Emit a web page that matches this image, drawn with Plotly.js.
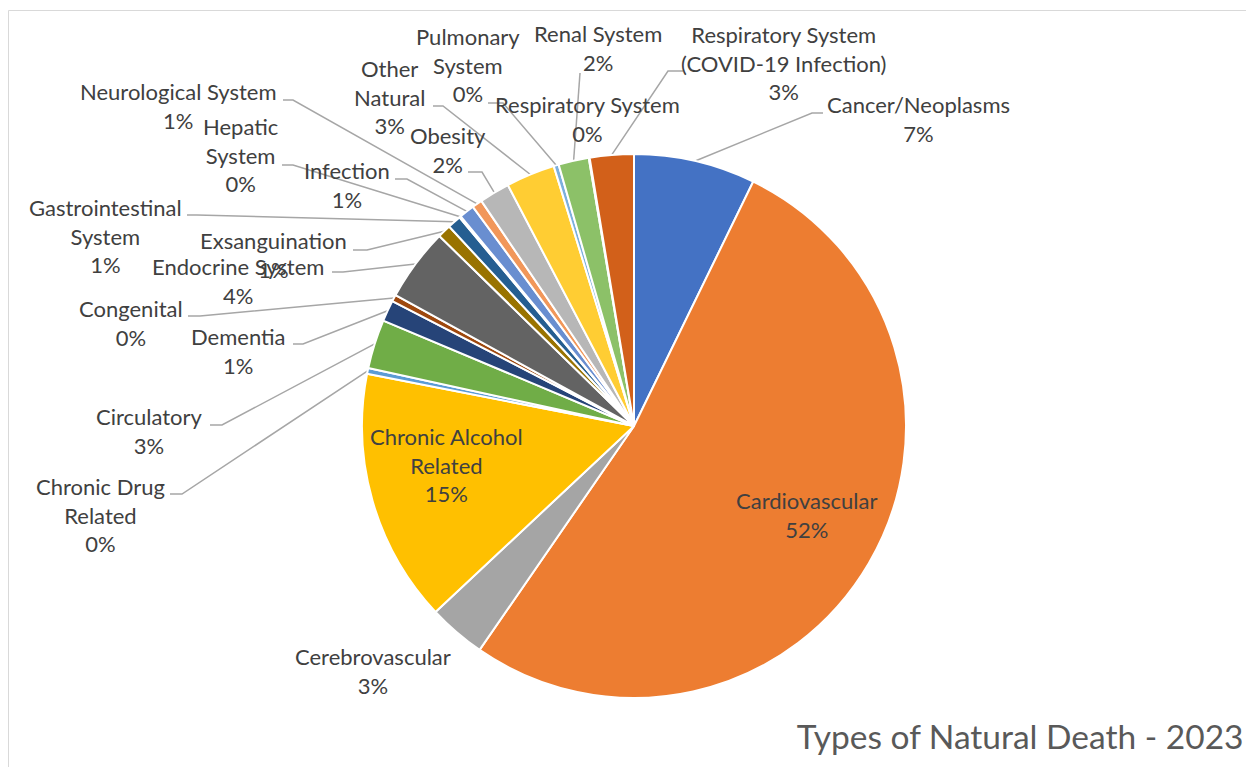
<!DOCTYPE html>
<html>
<head>
<meta charset="utf-8">
<script src="https://cdn.plot.ly/plotly-3.0.1.min.js"></script>
<style>html,body{margin:0;padding:0;background:#fff;}#chart{width:1246px;height:767px;}</style>
</head>
<body>
<div id="chart"></div>
<script>
// ---- data (share of natural deaths, %) ----
var categories = [
  "Cancer/Neoplasms", "Cardiovascular", "Cerebrovascular", "Chronic Alcohol Related",
  "Chronic Drug Related", "Circulatory", "Dementia", "Congenital", "Endocrine System",
  "Exsanguination", "Gastrointestinal System", "Hepatic System", "Infection",
  "Neurological System", "Obesity", "Other Natural", "Pulmonary System", "Renal System",
  "Respiratory System", "Respiratory System (COVID-19 Infection)"
];
var values = [7.2, 52.2, 3.4, 15.0, 0.35, 2.9, 1.25, 0.4, 4.3, 0.8, 0.8, 0.1, 0.9, 0.6, 1.8, 2.9, 0.3, 1.8, 0.05, 2.6];
var labelText = [
  "Cancer/Neoplasms", "Cardiovascular", "Cerebrovascular", "Chronic Alcohol<br>Related",
  "Chronic Drug<br>Related", "Circulatory", "Dementia", "Congenital", "Endocrine System",
  "Exsanguination", "Gastrointestinal<br>System", "Hepatic<br>System", "Infection",
  "Neurological System", "Obesity", "Other<br>Natural", "Pulmonary<br>System", "Renal System",
  "Respiratory System", "Respiratory System<br>(COVID-19 Infection)"
];
var sliceColors = [
  "#4472C4", "#ED7D31", "#A5A5A5", "#FFC000", "#5B9BD5", "#70AD47",
  "#264478", "#9E480E", "#636363", "#997300", "#255E91", "#43682B",
  "#698ED0", "#F1975A", "#B7B7B7", "#FFCD33", "#7CAFDD", "#8CC168",
  "#335AA1", "#D2601A"
];
var chartTitle = "Types of Natural Death - 2023";

// ---- layout (pixel positions of the figure) ----
var W = 1246, H = 767;
var CX = 634, CY = 426, R = 272;
// label block centre [x, y]; leader line start + elbow (null = no leader)
var labelPos = [
  [918, 119], [806, 515], [373, 671], [446, 465],
  [100, 515], [149, 431], [238, 351], [131, 323], [238, 281],
  [273, 255], [105, 236], [240, 155], [347, 185],
  [178, 106], [448, 150], [389, 97], [468, 65], [598, 48],
  [587, 119], [783, 63]
];
var leaderPts = [
  [[823,113],[812,113]], null, null, null,
  [[170,494],[182,494]], [[210,425],[222,425]], [[293,344],[303,344]], [[188,316],[200,316]], [[332,272],[343,272]],
  [[353,250],[367,250]], [[187,215],[197,215]], [[282,165],[293,165]], [[395,179],[407,179]],
  [[283,100],[293,100]], [[468,172],[482,172]], [[433,106],[443,106]], [[488,103],[503,103]], [[580,73],[580,73]],
  null, [[683,71],[668,71]]
];

var FONT = "Lato, 'Open Sans', sans-serif";
var total = values.reduce(function(a,b){return a+b;}, 0);

// leader line traces from slice mid-angles
var lx = [], ly = [];
var cum = 0;
var annotations = [];
for (var i = 0; i < values.length; i++) {
  var mid = (cum + values[i] / 2) / total * 2 * Math.PI; // clockwise from 12 o'clock
  cum += values[i];
  var ex = CX + R * Math.sin(mid), ey = CY - R * Math.cos(mid);
  if (leaderPts[i]) {
    lx.push(leaderPts[i][0][0], leaderPts[i][1][0], ex, null);
    ly.push(leaderPts[i][0][1], leaderPts[i][1][1], ey, null);
  }
  var pct = Math.round(values[i] / total * 100) + "%";
  annotations.push({
    xref: "x", yref: "y", x: labelPos[i][0], y: labelPos[i][1],
    xanchor: "center", yanchor: "middle", showarrow: false,
    text: labelText[i] + "<br>" + pct,
    font: {family: FONT, size: 22, color: "#404040"}
  });
}

var data = [
  {
    type: "scatter", mode: "lines", x: lx, y: ly,
    line: {color: "#A6A6A6", width: 1.5}, hoverinfo: "skip", showlegend: false,
    xaxis: "x", yaxis: "y"
  },
  {
    type: "pie", labels: categories, values: values, sort: false,
    direction: "clockwise", rotation: 0, textinfo: "none",
    marker: {colors: sliceColors, line: {color: "#FFFFFF", width: 2}},
    domain: {x: [(CX - R) / W, (CX + R) / W], y: [(H - CY - R) / H, (H - CY + R) / H]},
    showlegend: false
  }
];

var layout = {
  width: W, height: H,
  margin: {l: 0, r: 0, t: 0, b: 0},
  paper_bgcolor: "#FFFFFF", plot_bgcolor: "rgba(0,0,0,0)",
  xaxis: {range: [0, W], visible: false, fixedrange: true},
  yaxis: {range: [H, 0], visible: false, fixedrange: true},
  showlegend: false,
  title: {
    text: chartTitle,
    font: {family: FONT, size: 33.5, color: "#595959"},
    xref: "paper", x: 0.998, xanchor: "right",
    yref: "container", y: (H - 737) / H, yanchor: "middle"
  },
  shapes: [{
    type: "rect", xref: "x", yref: "y", x0: 8.5, y0: 10.5, x1: 1400, y1: 900,
    line: {color: "#D9D9D9", width: 1}, layer: "below"
  }],
  annotations: annotations
};

Plotly.newPlot("chart", data, layout, {staticPlot: true, displayModeBar: false});
</script>
</body>
</html>
